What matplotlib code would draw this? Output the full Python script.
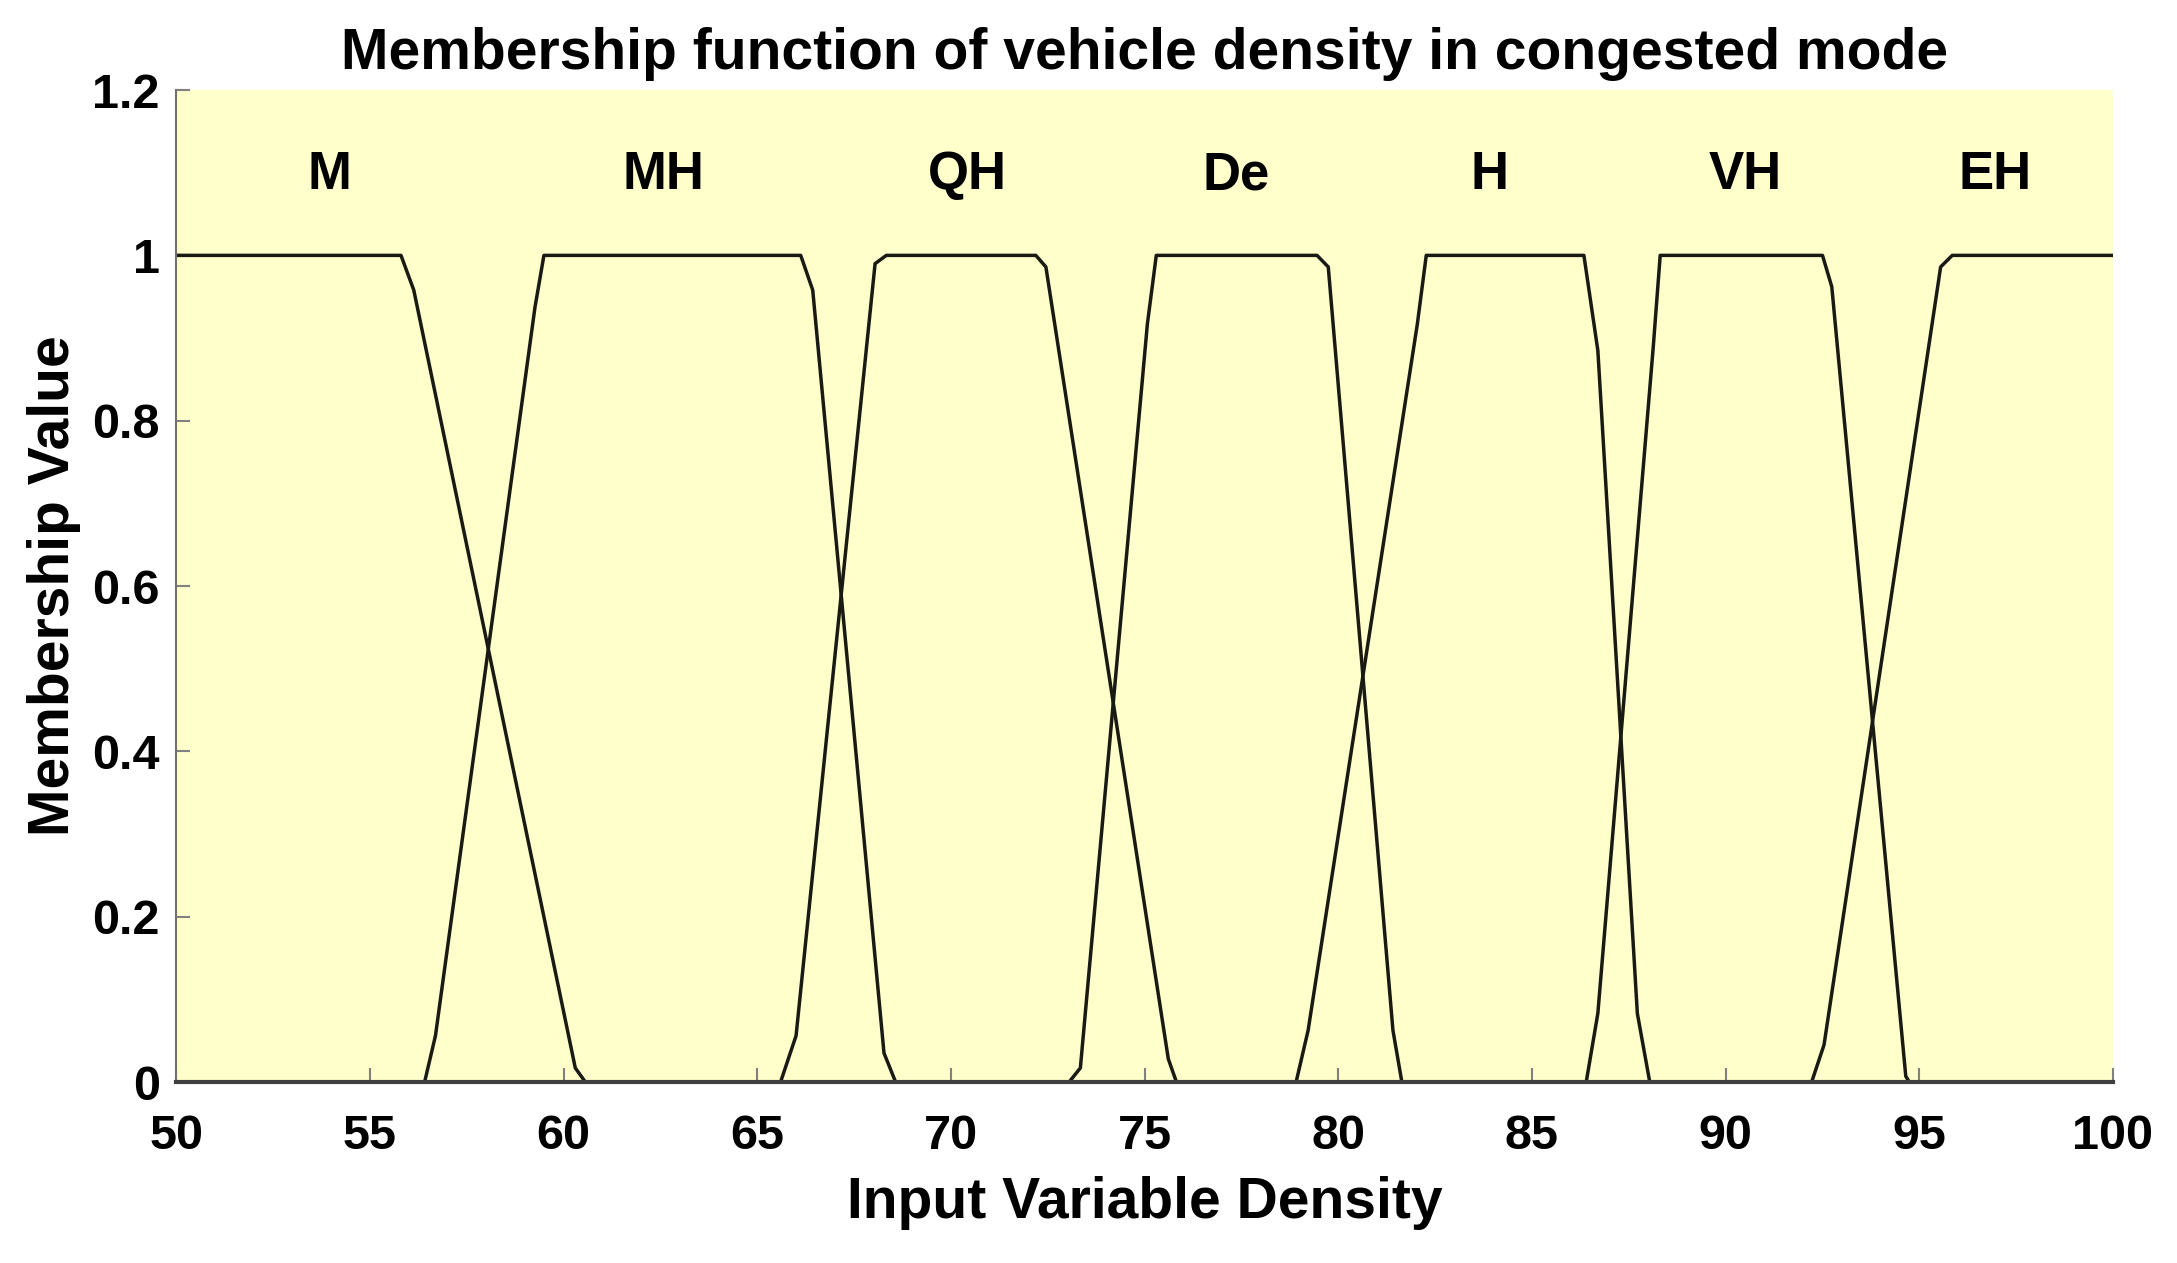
import matplotlib.pyplot as plt
import numpy as np

# membership function vertices (x = density, y = membership)
mf_names = ["M", "MH", "QH", "De", "H", "VH", "EH"]
mf_x = [
    [50, 55.8, 56.13, 60.3, 60.56, 100],
    [50, 56.41, 56.69, 59.26, 59.49, 66.12, 66.43, 68.27, 68.57, 100],
    [50, 65.6, 66.0, 68.04, 68.33, 72.19, 72.45, 75.61, 75.82, 100],
    [50, 73.05, 73.34, 75.07, 75.30, 79.45, 79.74, 81.41, 81.64, 100],
    [50, 78.91, 79.22, 82.04, 82.27, 86.34, 86.70, 87.72, 88.04, 100],
    [50, 86.40, 86.70, 88.13, 88.31, 92.5, 92.74, 94.65, 94.74, 100],
    [50, 92.22, 92.54, 95.55, 95.85, 100],
]
mf_y = [
    [1, 1, 0.958, 0.017, 0, 0],
    [0, 0, 0.056, 0.9375, 1, 1, 0.958, 0.035, 0, 0],
    [0, 0, 0.056, 0.99, 1, 1, 0.986, 0.028, 0, 0],
    [0, 0, 0.017, 0.917, 1, 1, 0.986, 0.0625, 0, 0],
    [0, 0, 0.0625, 0.917, 1, 1, 0.885, 0.083, 0, 0],
    [0, 0, 0.083, 0.889, 1, 1, 0.962, 0.007, 0, 0],
    [0, 0, 0.045, 0.986, 1, 1],
]
label_x = [53.94, 62.58, 70.43, 77.35, 83.9, 90.5, 96.95]
label_y = 1.097

plt.rcParams['font.family'] = ['Liberation Sans', 'DejaVu Sans']
plt.rcParams['font.weight'] = 'bold'

fig = plt.figure(figsize=(21.77, 12.63), dpi=100)
ax = fig.add_axes([0.081, 0.1433, 0.8896, 0.7854])
ax.set_facecolor('#FFFFCC')

for xs, ys in zip(mf_x, mf_y):
    ax.plot(xs, ys, color='#1a1a14', linewidth=2.5)

for name, lx in zip(mf_names, label_x):
    ax.text(lx, label_y, name, ha='center', va='center', fontsize=38, fontweight='bold')

ax.set_xlim(50, 100)
ax.set_ylim(0, 1.2)
ax.set_xticks(np.arange(50, 101, 5))
ax.set_yticks([0, 0.2, 0.4, 0.6, 0.8, 1, 1.2])
ax.set_yticklabels(["0", "0.2", "0.4", "0.6", "0.8", "1", "1.2"])
ax.tick_params(direction='in', length=10, width=1.5, color='#808080', labelsize=35)
ax.tick_params(axis='x', pad=23)
ax.tick_params(axis='y', pad=12)
for lab in ax.get_xticklabels() + ax.get_yticklabels():
    lab.set_fontweight('bold')

ax.spines['top'].set_visible(False)
ax.spines['right'].set_visible(False)
ax.spines['left'].set_color('#707070')
ax.spines['bottom'].set_color('#404040')
ax.spines['left'].set_linewidth(1.5)
ax.spines['bottom'].set_linewidth(3)

ax.set_xlabel("Input Variable Density", fontsize=41, fontweight='bold', labelpad=12)
ax.set_ylabel("Membership Value", fontsize=41, fontweight='bold', labelpad=8)
ax.set_title("Membership function of vehicle density in congested mode",
             fontsize=41, fontweight='bold', pad=15)

fig.savefig("out.png", dpi=100)
